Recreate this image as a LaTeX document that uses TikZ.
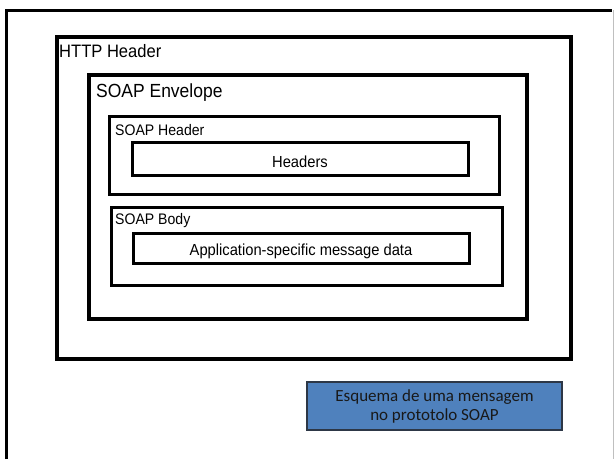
\documentclass[tikz,border=0pt]{standalone}
\usepackage{fontspec}
\usepackage{tikz}
\usetikzlibrary{positioning}
\newfontfamily\diagfont[FakeStretch=0.92]{Liberation Sans}
\newfontfamily\notefont{Carlito}
\definecolor{noteblue}{RGB}{79,129,189}
\definecolor{noteedge}{RGB}{45,55,70}
\tikzstyle{layer} = [rectangle, draw=black, line width=3.5pt, anchor=north west, inner sep=0pt]
\tikzstyle{part} = [rectangle, draw=black, line width=3pt, anchor=north west, inner sep=0pt]
\tikzstyle{content} = [rectangle, draw=black, line width=3pt, text centered, inner sep=0pt, text depth=0pt, font=\diagfont\fontsize{16}{18}\selectfont]
\tikzstyle{tag} = [anchor=base west, inner sep=0pt]
\tikzstyle{note} = [rectangle, draw=noteedge, fill=noteblue, line width=1.2pt, align=center, text=black!90, font=\notefont\fontsize{17}{19}\selectfont]

\begin{document}
\begin{tikzpicture}[x=1pt,y=-1pt]
\useasboundingbox (0,0) rectangle (614,459);

% page frame
\draw [line width=3pt] (6,459) -- (6,10) -- (612,10);
\draw [black!25, line width=1pt] (613,10) -- (613,459);

\node (http) [layer, minimum width=514pt, minimum height=322pt] at (55,35) {};
\node (env) [layer, minimum width=438pt, minimum height=244pt] at (87,73) {};
\node (hdr) [part, minimum width=390pt, minimum height=78pt] at (108,115) {};
\node (body) [part, minimum width=391pt, minimum height=78pt] at (110,206) {};
\node (headers) [content, minimum width=336pt, minimum height=33pt, text height=17pt] at (300,158.5) {Headers};
\node (data) [content, minimum width=336pt, minimum height=30pt, text height=14pt] at (301,248) {Application-specific message data};

\node (httptag) [tag, font=\diagfont\fontsize{18}{20}\selectfont] at ([xshift=4pt,yshift=-22pt]http.north west) {HTTP Header};
\node (envtag) [tag, font=\diagfont\fontsize{19}{21}\selectfont] at ([xshift=9pt,yshift=-24pt]env.north west) {SOAP Envelope};
\node (hdrtag) [tag, font=\diagfont\fontsize{15.3}{17}\selectfont] at ([xshift=7pt,yshift=-20pt]hdr.north west) {SOAP Header};
\node (bodytag) [tag, font=\diagfont\fontsize{15.3}{17}\selectfont] at ([xshift=5pt,yshift=-18pt]body.north west) {SOAP Body};

\node (caption) [note, minimum width=255pt, minimum height=48pt] at (434.5,406) {Esquema de uma mensagem\\no prototolo SOAP};

\end{tikzpicture}
\end{document}
